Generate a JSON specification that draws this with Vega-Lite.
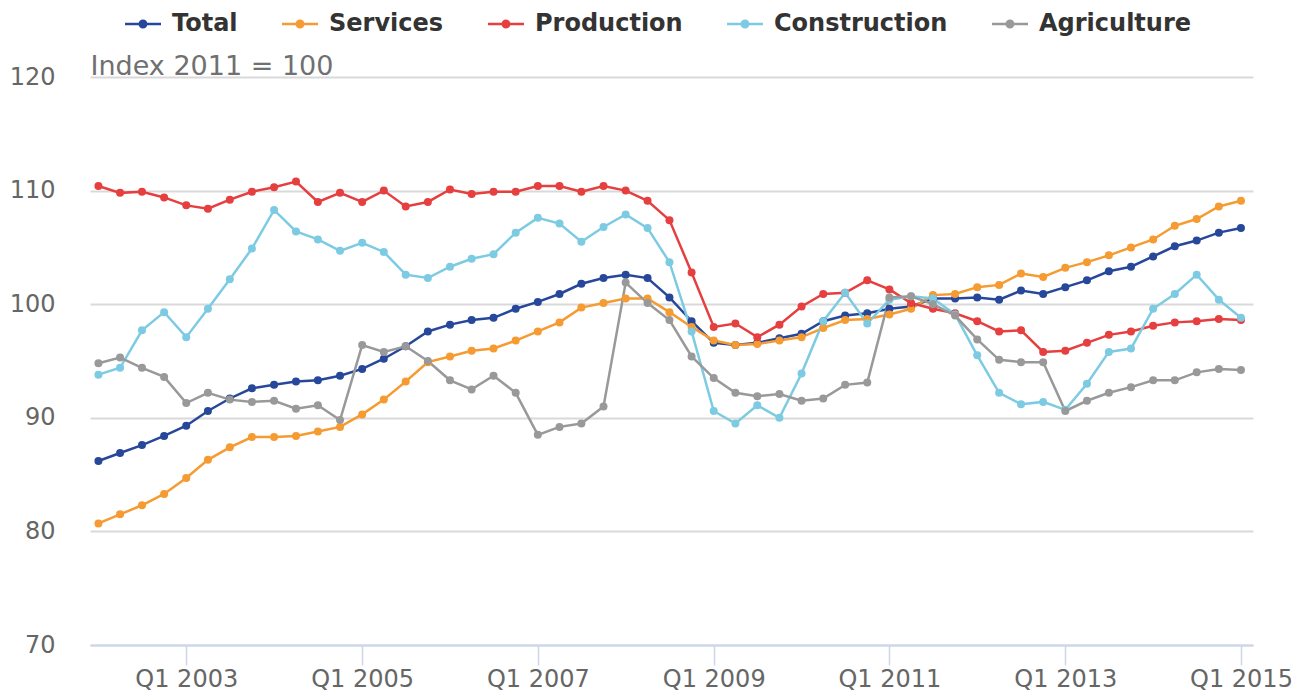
{
"$schema": "https://vega.github.io/schema/vega-lite/v6.json",
"width": 1163, "height": 568,
"autosize": {"type": "none"},
"padding": {"left": 90, "top": 77, "right": 54, "bottom": 46},
"background": "white",
"config": {"font": "DejaVu Sans", "view": {"stroke": null}},
"datasets": {"d": [
{"d":"2002-01-01","s":"Total","v":86.2},{"d":"2002-04-01","s":"Total","v":86.9},{"d":"2002-07-01","s":"Total","v":87.6},{"d":"2002-10-01","s":"Total","v":88.4},
{"d":"2003-01-01","s":"Total","v":89.3},{"d":"2003-04-01","s":"Total","v":90.6},{"d":"2003-07-01","s":"Total","v":91.7},{"d":"2003-10-01","s":"Total","v":92.6},
{"d":"2004-01-01","s":"Total","v":92.9},{"d":"2004-04-01","s":"Total","v":93.2},{"d":"2004-07-01","s":"Total","v":93.3},{"d":"2004-10-01","s":"Total","v":93.7},
{"d":"2005-01-01","s":"Total","v":94.3},{"d":"2005-04-01","s":"Total","v":95.2},{"d":"2005-07-01","s":"Total","v":96.3},{"d":"2005-10-01","s":"Total","v":97.6},
{"d":"2006-01-01","s":"Total","v":98.2},{"d":"2006-04-01","s":"Total","v":98.6},{"d":"2006-07-01","s":"Total","v":98.8},{"d":"2006-10-01","s":"Total","v":99.6},
{"d":"2007-01-01","s":"Total","v":100.2},{"d":"2007-04-01","s":"Total","v":100.9},{"d":"2007-07-01","s":"Total","v":101.8},{"d":"2007-10-01","s":"Total","v":102.3},
{"d":"2008-01-01","s":"Total","v":102.6},{"d":"2008-04-01","s":"Total","v":102.3},{"d":"2008-07-01","s":"Total","v":100.6},{"d":"2008-10-01","s":"Total","v":98.5},
{"d":"2009-01-01","s":"Total","v":96.6},{"d":"2009-04-01","s":"Total","v":96.4},{"d":"2009-07-01","s":"Total","v":96.6},{"d":"2009-10-01","s":"Total","v":97.0},
{"d":"2010-01-01","s":"Total","v":97.4},{"d":"2010-04-01","s":"Total","v":98.5},{"d":"2010-07-01","s":"Total","v":99.0},{"d":"2010-10-01","s":"Total","v":99.2},
{"d":"2011-01-01","s":"Total","v":99.6},{"d":"2011-04-01","s":"Total","v":99.8},{"d":"2011-07-01","s":"Total","v":100.5},{"d":"2011-10-01","s":"Total","v":100.5},
{"d":"2012-01-01","s":"Total","v":100.6},{"d":"2012-04-01","s":"Total","v":100.4},{"d":"2012-07-01","s":"Total","v":101.2},{"d":"2012-10-01","s":"Total","v":100.9},
{"d":"2013-01-01","s":"Total","v":101.5},{"d":"2013-04-01","s":"Total","v":102.1},{"d":"2013-07-01","s":"Total","v":102.9},{"d":"2013-10-01","s":"Total","v":103.3},
{"d":"2014-01-01","s":"Total","v":104.2},{"d":"2014-04-01","s":"Total","v":105.1},{"d":"2014-07-01","s":"Total","v":105.6},{"d":"2014-10-01","s":"Total","v":106.3},
{"d":"2015-01-01","s":"Total","v":106.7},
{"d":"2002-01-01","s":"Services","v":80.7},{"d":"2002-04-01","s":"Services","v":81.5},{"d":"2002-07-01","s":"Services","v":82.3},{"d":"2002-10-01","s":"Services","v":83.3},
{"d":"2003-01-01","s":"Services","v":84.7},{"d":"2003-04-01","s":"Services","v":86.3},{"d":"2003-07-01","s":"Services","v":87.4},{"d":"2003-10-01","s":"Services","v":88.3},
{"d":"2004-01-01","s":"Services","v":88.3},{"d":"2004-04-01","s":"Services","v":88.4},{"d":"2004-07-01","s":"Services","v":88.8},{"d":"2004-10-01","s":"Services","v":89.2},
{"d":"2005-01-01","s":"Services","v":90.3},{"d":"2005-04-01","s":"Services","v":91.6},{"d":"2005-07-01","s":"Services","v":93.2},{"d":"2005-10-01","s":"Services","v":94.9},
{"d":"2006-01-01","s":"Services","v":95.4},{"d":"2006-04-01","s":"Services","v":95.9},{"d":"2006-07-01","s":"Services","v":96.1},{"d":"2006-10-01","s":"Services","v":96.8},
{"d":"2007-01-01","s":"Services","v":97.6},{"d":"2007-04-01","s":"Services","v":98.4},{"d":"2007-07-01","s":"Services","v":99.7},{"d":"2007-10-01","s":"Services","v":100.1},
{"d":"2008-01-01","s":"Services","v":100.5},{"d":"2008-04-01","s":"Services","v":100.5},{"d":"2008-07-01","s":"Services","v":99.3},{"d":"2008-10-01","s":"Services","v":98.0},
{"d":"2009-01-01","s":"Services","v":96.8},{"d":"2009-04-01","s":"Services","v":96.4},{"d":"2009-07-01","s":"Services","v":96.5},{"d":"2009-10-01","s":"Services","v":96.8},
{"d":"2010-01-01","s":"Services","v":97.1},{"d":"2010-04-01","s":"Services","v":97.9},{"d":"2010-07-01","s":"Services","v":98.6},{"d":"2010-10-01","s":"Services","v":98.7},
{"d":"2011-01-01","s":"Services","v":99.1},{"d":"2011-04-01","s":"Services","v":99.6},{"d":"2011-07-01","s":"Services","v":100.8},{"d":"2011-10-01","s":"Services","v":100.9},
{"d":"2012-01-01","s":"Services","v":101.5},{"d":"2012-04-01","s":"Services","v":101.7},{"d":"2012-07-01","s":"Services","v":102.7},{"d":"2012-10-01","s":"Services","v":102.4},
{"d":"2013-01-01","s":"Services","v":103.2},{"d":"2013-04-01","s":"Services","v":103.7},{"d":"2013-07-01","s":"Services","v":104.3},{"d":"2013-10-01","s":"Services","v":105.0},
{"d":"2014-01-01","s":"Services","v":105.7},{"d":"2014-04-01","s":"Services","v":106.9},{"d":"2014-07-01","s":"Services","v":107.5},{"d":"2014-10-01","s":"Services","v":108.6},
{"d":"2015-01-01","s":"Services","v":109.1},
{"d":"2002-01-01","s":"Production","v":110.4},{"d":"2002-04-01","s":"Production","v":109.8},{"d":"2002-07-01","s":"Production","v":109.9},{"d":"2002-10-01","s":"Production","v":109.4},
{"d":"2003-01-01","s":"Production","v":108.7},{"d":"2003-04-01","s":"Production","v":108.4},{"d":"2003-07-01","s":"Production","v":109.2},{"d":"2003-10-01","s":"Production","v":109.9},
{"d":"2004-01-01","s":"Production","v":110.3},{"d":"2004-04-01","s":"Production","v":110.8},{"d":"2004-07-01","s":"Production","v":109.0},{"d":"2004-10-01","s":"Production","v":109.8},
{"d":"2005-01-01","s":"Production","v":109.0},{"d":"2005-04-01","s":"Production","v":110.0},{"d":"2005-07-01","s":"Production","v":108.6},{"d":"2005-10-01","s":"Production","v":109.0},
{"d":"2006-01-01","s":"Production","v":110.1},{"d":"2006-04-01","s":"Production","v":109.7},{"d":"2006-07-01","s":"Production","v":109.9},{"d":"2006-10-01","s":"Production","v":109.9},
{"d":"2007-01-01","s":"Production","v":110.4},{"d":"2007-04-01","s":"Production","v":110.4},{"d":"2007-07-01","s":"Production","v":109.9},{"d":"2007-10-01","s":"Production","v":110.4},
{"d":"2008-01-01","s":"Production","v":110.0},{"d":"2008-04-01","s":"Production","v":109.1},{"d":"2008-07-01","s":"Production","v":107.4},{"d":"2008-10-01","s":"Production","v":102.8},
{"d":"2009-01-01","s":"Production","v":98.0},{"d":"2009-04-01","s":"Production","v":98.3},{"d":"2009-07-01","s":"Production","v":97.1},{"d":"2009-10-01","s":"Production","v":98.2},
{"d":"2010-01-01","s":"Production","v":99.8},{"d":"2010-04-01","s":"Production","v":100.9},{"d":"2010-07-01","s":"Production","v":101.0},{"d":"2010-10-01","s":"Production","v":102.1},
{"d":"2011-01-01","s":"Production","v":101.3},{"d":"2011-04-01","s":"Production","v":100.1},{"d":"2011-07-01","s":"Production","v":99.6},{"d":"2011-10-01","s":"Production","v":99.2},
{"d":"2012-01-01","s":"Production","v":98.5},{"d":"2012-04-01","s":"Production","v":97.6},{"d":"2012-07-01","s":"Production","v":97.7},{"d":"2012-10-01","s":"Production","v":95.8},
{"d":"2013-01-01","s":"Production","v":95.9},{"d":"2013-04-01","s":"Production","v":96.6},{"d":"2013-07-01","s":"Production","v":97.3},{"d":"2013-10-01","s":"Production","v":97.6},
{"d":"2014-01-01","s":"Production","v":98.1},{"d":"2014-04-01","s":"Production","v":98.4},{"d":"2014-07-01","s":"Production","v":98.5},{"d":"2014-10-01","s":"Production","v":98.7},
{"d":"2015-01-01","s":"Production","v":98.6},
{"d":"2002-01-01","s":"Construction","v":93.8},{"d":"2002-04-01","s":"Construction","v":94.4},{"d":"2002-07-01","s":"Construction","v":97.7},{"d":"2002-10-01","s":"Construction","v":99.3},
{"d":"2003-01-01","s":"Construction","v":97.1},{"d":"2003-04-01","s":"Construction","v":99.6},{"d":"2003-07-01","s":"Construction","v":102.2},{"d":"2003-10-01","s":"Construction","v":104.9},
{"d":"2004-01-01","s":"Construction","v":108.3},{"d":"2004-04-01","s":"Construction","v":106.4},{"d":"2004-07-01","s":"Construction","v":105.7},{"d":"2004-10-01","s":"Construction","v":104.7},
{"d":"2005-01-01","s":"Construction","v":105.4},{"d":"2005-04-01","s":"Construction","v":104.6},{"d":"2005-07-01","s":"Construction","v":102.6},{"d":"2005-10-01","s":"Construction","v":102.3},
{"d":"2006-01-01","s":"Construction","v":103.3},{"d":"2006-04-01","s":"Construction","v":104.0},{"d":"2006-07-01","s":"Construction","v":104.4},{"d":"2006-10-01","s":"Construction","v":106.3},
{"d":"2007-01-01","s":"Construction","v":107.6},{"d":"2007-04-01","s":"Construction","v":107.1},{"d":"2007-07-01","s":"Construction","v":105.5},{"d":"2007-10-01","s":"Construction","v":106.8},
{"d":"2008-01-01","s":"Construction","v":107.9},{"d":"2008-04-01","s":"Construction","v":106.7},{"d":"2008-07-01","s":"Construction","v":103.7},{"d":"2008-10-01","s":"Construction","v":97.6},
{"d":"2009-01-01","s":"Construction","v":90.6},{"d":"2009-04-01","s":"Construction","v":89.5},{"d":"2009-07-01","s":"Construction","v":91.1},{"d":"2009-10-01","s":"Construction","v":90.0},
{"d":"2010-01-01","s":"Construction","v":93.9},{"d":"2010-04-01","s":"Construction","v":98.5},{"d":"2010-07-01","s":"Construction","v":101.0},{"d":"2010-10-01","s":"Construction","v":98.3},
{"d":"2011-01-01","s":"Construction","v":100.4},{"d":"2011-04-01","s":"Construction","v":100.7},{"d":"2011-07-01","s":"Construction","v":100.5},{"d":"2011-10-01","s":"Construction","v":99.1},
{"d":"2012-01-01","s":"Construction","v":95.5},{"d":"2012-04-01","s":"Construction","v":92.2},{"d":"2012-07-01","s":"Construction","v":91.2},{"d":"2012-10-01","s":"Construction","v":91.4},
{"d":"2013-01-01","s":"Construction","v":90.7},{"d":"2013-04-01","s":"Construction","v":93.0},{"d":"2013-07-01","s":"Construction","v":95.8},{"d":"2013-10-01","s":"Construction","v":96.1},
{"d":"2014-01-01","s":"Construction","v":99.6},{"d":"2014-04-01","s":"Construction","v":100.9},{"d":"2014-07-01","s":"Construction","v":102.6},{"d":"2014-10-01","s":"Construction","v":100.4},
{"d":"2015-01-01","s":"Construction","v":98.8},
{"d":"2002-01-01","s":"Agriculture","v":94.8},{"d":"2002-04-01","s":"Agriculture","v":95.3},{"d":"2002-07-01","s":"Agriculture","v":94.4},{"d":"2002-10-01","s":"Agriculture","v":93.6},
{"d":"2003-01-01","s":"Agriculture","v":91.3},{"d":"2003-04-01","s":"Agriculture","v":92.2},{"d":"2003-07-01","s":"Agriculture","v":91.6},{"d":"2003-10-01","s":"Agriculture","v":91.4},
{"d":"2004-01-01","s":"Agriculture","v":91.5},{"d":"2004-04-01","s":"Agriculture","v":90.8},{"d":"2004-07-01","s":"Agriculture","v":91.1},{"d":"2004-10-01","s":"Agriculture","v":89.8},
{"d":"2005-01-01","s":"Agriculture","v":96.4},{"d":"2005-04-01","s":"Agriculture","v":95.8},{"d":"2005-07-01","s":"Agriculture","v":96.3},{"d":"2005-10-01","s":"Agriculture","v":95.0},
{"d":"2006-01-01","s":"Agriculture","v":93.3},{"d":"2006-04-01","s":"Agriculture","v":92.5},{"d":"2006-07-01","s":"Agriculture","v":93.7},{"d":"2006-10-01","s":"Agriculture","v":92.2},
{"d":"2007-01-01","s":"Agriculture","v":88.5},{"d":"2007-04-01","s":"Agriculture","v":89.2},{"d":"2007-07-01","s":"Agriculture","v":89.5},{"d":"2007-10-01","s":"Agriculture","v":91.0},
{"d":"2008-01-01","s":"Agriculture","v":101.9},{"d":"2008-04-01","s":"Agriculture","v":100.1},{"d":"2008-07-01","s":"Agriculture","v":98.6},{"d":"2008-10-01","s":"Agriculture","v":95.4},
{"d":"2009-01-01","s":"Agriculture","v":93.5},{"d":"2009-04-01","s":"Agriculture","v":92.2},{"d":"2009-07-01","s":"Agriculture","v":91.9},{"d":"2009-10-01","s":"Agriculture","v":92.1},
{"d":"2010-01-01","s":"Agriculture","v":91.5},{"d":"2010-04-01","s":"Agriculture","v":91.7},{"d":"2010-07-01","s":"Agriculture","v":92.9},{"d":"2010-10-01","s":"Agriculture","v":93.1},
{"d":"2011-01-01","s":"Agriculture","v":100.6},{"d":"2011-04-01","s":"Agriculture","v":100.7},{"d":"2011-07-01","s":"Agriculture","v":100.0},{"d":"2011-10-01","s":"Agriculture","v":99.0},
{"d":"2012-01-01","s":"Agriculture","v":96.9},{"d":"2012-04-01","s":"Agriculture","v":95.1},{"d":"2012-07-01","s":"Agriculture","v":94.9},{"d":"2012-10-01","s":"Agriculture","v":94.9},
{"d":"2013-01-01","s":"Agriculture","v":90.6},{"d":"2013-04-01","s":"Agriculture","v":91.5},{"d":"2013-07-01","s":"Agriculture","v":92.2},{"d":"2013-10-01","s":"Agriculture","v":92.7},
{"d":"2014-01-01","s":"Agriculture","v":93.3},{"d":"2014-04-01","s":"Agriculture","v":93.3},{"d":"2014-07-01","s":"Agriculture","v":94.0},{"d":"2014-10-01","s":"Agriculture","v":94.3},
{"d":"2015-01-01","s":"Agriculture","v":94.2}
]},
"data": {"name": "d"},
"encoding": {
  "x": {"field": "d", "type": "temporal",
    "scale": {"type": "utc", "domain": [{"year": 2001, "month": 11, "date": 27, "utc": true}, {"year": 2015, "month": 2, "date": 20, "utc": true}]},
    "axis": {"title": null, "grid": false,
      "values": [{"year": 2003, "month": 1, "date": 1, "utc": true}, {"year": 2005, "month": 1, "date": 1, "utc": true}, {"year": 2007, "month": 1, "date": 1, "utc": true}, {"year": 2009, "month": 1, "date": 1, "utc": true}, {"year": 2011, "month": 1, "date": 1, "utc": true}, {"year": 2013, "month": 1, "date": 1, "utc": true}, {"year": 2015, "month": 1, "date": 1, "utc": true}],
      "labelExpr": "'Q1 ' + utcFormat(datum.value, '%Y')",
      "labelOverlap": false, "labelFlush": false,
      "domainColor": "#ccd6eb", "domainWidth": 2,
      "tickColor": "#ccd6eb", "tickSize": 20, "tickWidth": 1.5,
      "labelFontSize": 24, "labelColor": "#666666", "labelPadding": 2, "labelFont": "DejaVu Sans"}},
  "y": {"field": "v", "type": "quantitative",
    "scale": {"domain": [70, 120], "nice": false, "zero": false},
    "axis": {"values": [70, 80, 90, 100, 110, 120], "domain": false, "ticks": false,
      "gridColor": "#d9d9d9", "gridWidth": 2,
      "labelFontSize": 24, "labelColor": "#666666", "labelPadding": 35, "labelFont": "DejaVu Sans",
      "title": "Index 2011 = 100", "titleAngle": 0, "titleX": 0, "titleY": -3, "titleAlign": "left", "titleBaseline": "alphabetic",
      "titleFontSize": 27, "titleFontWeight": "normal", "titleColor": "#707070", "titleFont": "DejaVu Sans"}},
  "color": {"field": "s", "type": "nominal",
    "scale": {"domain": ["Total", "Services", "Production", "Construction", "Agriculture"], "range": ["#27479a", "#f59b31", "#e53f3f", "#7dcbe3", "#999999"]},
    "legend": {"title": null, "orient": "none", "legendX": 35, "legendY": -71, "direction": "horizontal",
      "symbolType": "M-1,-0.07H1V0.07H-1Z M-0.25,0A0.25,0.25,0,1,1,0.25,0A0.25,0.25,0,1,1,-0.25,0Z",
      "symbolSize": 1296, "symbolStrokeWidth": 0,
      "labelFontSize": 24, "labelFontWeight": "bold", "labelColor": "#333333", "labelFont": "DejaVu Sans",
      "labelOffset": 11, "columnPadding": 44, "padding": 0, "labelLimit": 400,
      "encode": {"symbols": {"update": {"fill": {"scale": "color", "field": "value"}, "fillOpacity": {"value": 1}, "strokeWidth": {"value": 0}, "size": {"value": 1296}, "opacity": {"value": 1}}}}}}
},
"layer": [
  {"mark": {"type": "line", "strokeWidth": 2.5}},
  {"mark": {"type": "point", "filled": true, "size": 64, "opacity": 1}}
]
}
